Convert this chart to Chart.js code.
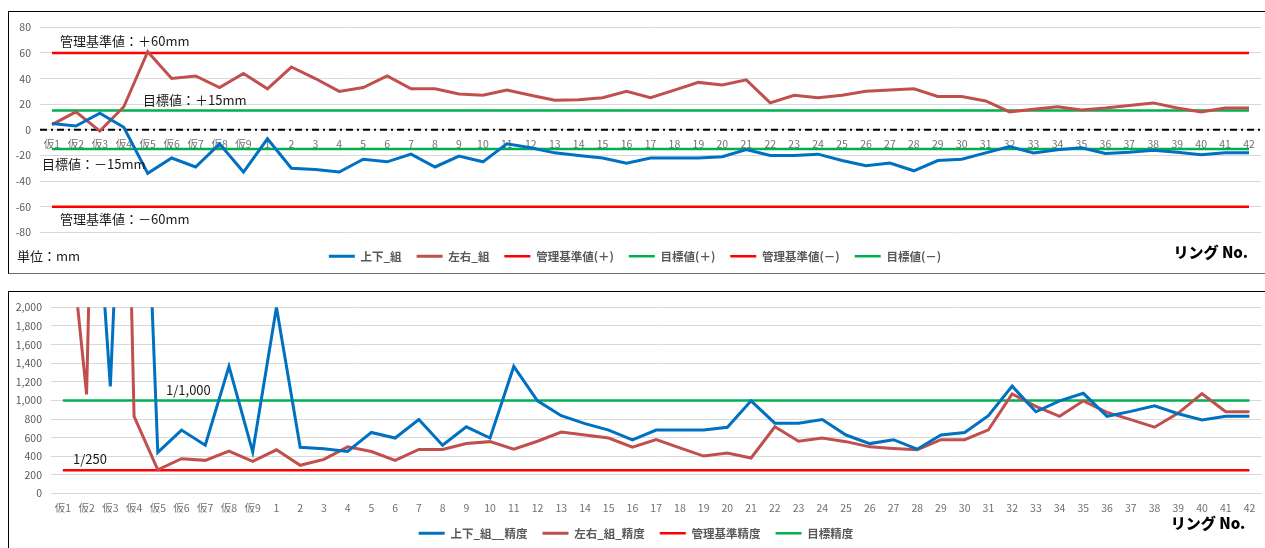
<!DOCTYPE html>
<html lang="ja">
<head>
<meta charset="utf-8">
<title>リング 組立出来形・精度</title>
<script src="https://cdn.jsdelivr.net/npm/chart.js"></script>
<style>
  html, body { margin: 0; padding: 0; background: #fff; overflow: hidden; width: 1265px; height: 548px; }
  .frame { position: absolute; box-sizing: border-box; border: 1px solid #000; }
  #frameTop { left: 8px; top: 11px; width: 1264px; height: 263px; border-bottom-color: #6b6b6b; }
  #frameBottom { left: 8px; top: 291px; width: 1264px; height: 270px; }
  canvas { position: absolute; }
  #deviationChart { left: 9px; top: 12px; }
  #accuracyChart { left: 9px; top: 292px; }
</style>
</head>
<body>
<div class="frame" id="frameTop"></div>
<div class="frame" id="frameBottom"></div>
<canvas id="deviationChart" width="1255" height="260"></canvas>
<canvas id="accuracyChart" width="1255" height="257"></canvas>
<script>
// Ring numbers (仮 = temporary rings)
const rings = ['仮1', '仮2', '仮3', '仮4', '仮5', '仮6', '仮7', '仮8', '仮9',
  '1', '2', '3', '4', '5', '6', '7', '8', '9', '10',
  '11', '12', '13', '14', '15', '16', '17', '18', '19', '20',
  '21', '22', '23', '24', '25', '26', '27', '28', '29', '30',
  '31', '32', '33', '34', '35', '36', '37', '38', '39', '40', '41', '42'];

// Assembly deviation (mm)
const verticalDev = [5, 3, 13, 2, -34, -22, -29, -11, -33,
  -7, -30, -31, -33, -23, -25, -19, -29, -20.5, -25,
  -11, -14, -18, -20, -22, -26, -22, -22, -22, -21,
  -15.5, -20, -20, -19, -24, -28, -26, -32, -24, -23,
  -18, -13, -18, -15.5, -14, -18.5, -17.5, -16, -17.5, -19.5, -18, -18];
const horizontalDev = [4, 14, -1, 18, 61, 40, 42, 33, 44,
  32, 49, 40, 30, 33, 42, 32, 32, 28, 27,
  31, 27, 23, 23.5, 25, 30, 25, 31, 37, 35,
  39, 21, 27, 25, 27, 30, 31, 32, 26, 26,
  22.5, 14, 16, 18, 15.5, 17, 19, 21, 17, 14, 17, 17];

// Assembly accuracy (1/N)
const verticalAcc = [5000, 4850, 1150, 7000, 441, 681, 518, 1365, 448,
  2000, 497, 480, 451, 656, 596, 794, 518, 716, 596,
  1365, 995, 836, 751, 681, 575, 681, 681, 681, 712,
  995, 755, 755, 794, 628, 536, 578, 476, 628, 656,
  836, 1153, 878, 995, 1076, 829, 882, 942, 857, 790, 829, 829];
const horizontalAcc = [3560, 1065, 12000, 829, 254, 374, 356, 455, 346,
  469, 303, 367, 501, 451, 356, 473, 473, 536, 557,
  476, 561, 660, 628, 596, 497, 578, 490, 402, 434,
  381, 716, 561, 596, 557, 501, 483, 469, 578, 578,
  684, 1069, 935, 829, 995, 871, 794, 712, 864, 1072, 878, 878];

// Criteria
const LIMIT_MM = 60;
const TARGET_MM = 15;
const LIMIT_RATIO = 250;
const TARGET_RATIO = 1000;

// Axis ticks
const devTicks = [-80, -60, -40, -20, 0, 20, 40, 60, 80];
const accTicks = [0, 200, 400, 600, 800, 1000, 1200, 1400, 1600, 1800, 2000];

const BLUE = '#0070C0', BROWN = '#C0504D', RED = '#FF0000', GREEN = '#00B050';
const JP = "'Noto Sans CJK JP', 'Noto Sans', sans-serif";

Chart.defaults.font.family = JP;
Chart.defaults.color = '#595959';

function series(label, data, color, width) {
  return { label, data, borderColor: color, backgroundColor: color, borderWidth: width,
    pointRadius: 0, pointHoverRadius: 0, tension: 0, fill: false };
}
// A criterion line spanning from the first ring to the last ring
function criterion(label, value, color) {
  return series(label, [{ x: rings[0], y: value }, { x: rings[rings.length - 1], y: value }], color, 2.5);
}

// Dash-dot reference line along y = 0, drawn under the series
const zeroLine = {
  id: 'zeroLine',
  beforeDatasetsDraw(chart) {
    const { ctx, chartArea, scales } = chart;
    const y = scales.y.getPixelForValue(0);
    ctx.save();
    ctx.strokeStyle = '#000';
    ctx.lineWidth = 2;
    ctx.setLineDash([7, 4, 2, 4]);
    ctx.beginPath();
    ctx.moveTo(chartArea.left, y);
    ctx.lineTo(chartArea.right, y);
    ctx.stroke();
    ctx.restore();
  }
};

// Text notes placed relative to the plot area / a y value
const noteText = {
  id: 'noteText',
  afterDraw(chart, args, opts) {
    const { ctx, chartArea, scales } = chart;
    ctx.save();
    ctx.textBaseline = 'middle';
    for (const n of opts.items) {
      ctx.font = n.font;
      ctx.fillStyle = n.color || '#1a1a1a';
      ctx.textAlign = n.align || 'left';
      const x = n.fromRight ? chartArea.right + n.dx : chartArea.left + n.dx;
      const y = (n.value !== undefined ? scales.y.getPixelForValue(n.value) : chartArea.bottom) + n.dy;
      ctx.fillText(n.text, x, y);
    }
    ctx.restore();
  }
};

const legendLabels = {
  usePointStyle: true, pointStyle: 'line', pointStyleWidth: 26, padding: 15,
  color: '#595959', font: { size: 11.5, weight: 'bold' }
};
const NOTE_FONT = '13px ' + JP;
const AXIS_NOTE_FONT = '900 15px ' + JP;

// Deviation chart
new Chart(document.getElementById('deviationChart'), {
  type: 'line',
  data: {
    labels: rings,
    datasets: [
      series('上下_組', verticalDev, BLUE, 3),
      series('左右_組', horizontalDev, BROWN, 3),
      criterion('管理基準値(＋)', LIMIT_MM, RED),
      criterion('目標値(＋)', TARGET_MM, GREEN),
      criterion('管理基準値(－)', -LIMIT_MM, RED),
      criterion('目標値(－)', -TARGET_MM, GREEN)
    ]
  },
  options: {
    responsive: false,
    animation: false,
    layout: { padding: { left: 0, right: 3, top: 12, bottom: 0 } },
    scales: {
      x: {
        offset: true,
        position: { y: 0 },
        grid: { display: false, drawTicks: false },
        border: { display: false },
        ticks: { color: '#707070', font: { size: 10.5 }, padding: 8, autoSkip: false, maxRotation: 0 }
      },
      y: {
        min: devTicks[0], max: devTicks[devTicks.length - 1],
        afterBuildTicks(s) { s.ticks = devTicks.map(v => ({ value: v })); },
        grid: { color: '#d9d9d9', drawTicks: false },
        border: { display: false },
        ticks: { color: '#595959', font: { size: 10.5 }, padding: 9 },
        afterFit(s) { s.width = 31; }
      }
    },
    plugins: {
      tooltip: { enabled: false },
      legend: {
        position: 'bottom',
        title: { display: true, text: '', font: { size: 1 }, padding: { top: 2, bottom: 0 } },
        labels: legendLabels
      },
      noteText: {
        items: [
          { text: `管理基準値：＋${LIMIT_MM}mm`, value: LIMIT_MM, dx: 20, dy: -11.5, font: NOTE_FONT },
          { text: `目標値：＋${TARGET_MM}mm`, value: TARGET_MM, dx: 103, dy: -11, font: NOTE_FONT },
          { text: `目標値：－${TARGET_MM}mm`, value: -TARGET_MM, dx: 2, dy: 15.5, font: NOTE_FONT },
          { text: `管理基準値：－${LIMIT_MM}mm`, value: -LIMIT_MM, dx: 20, dy: 12.5, font: NOTE_FONT },
          { text: '単位：mm', dx: -23, dy: 24, font: NOTE_FONT },
          { text: 'リング No.', fromRight: true, align: 'right', dx: -13, dy: 19.5, font: AXIS_NOTE_FONT, color: '#000' }
        ]
      }
    }
  },
  plugins: [zeroLine, noteText]
});

// Accuracy chart
new Chart(document.getElementById('accuracyChart'), {
  type: 'line',
  data: {
    labels: rings,
    datasets: [
      series('上下_組__精度', verticalAcc, BLUE, 3),
      series('左右_組_精度', horizontalAcc, BROWN, 3),
      criterion('管理基準精度', LIMIT_RATIO, RED),
      criterion('目標精度', TARGET_RATIO, GREEN)
    ]
  },
  options: {
    responsive: false,
    animation: false,
    layout: { padding: { left: 0, right: 1, top: 12, bottom: 0 } },
    scales: {
      x: {
        offset: true,
        grid: { display: false, drawTicks: false },
        border: { display: false },
        ticks: { color: '#707070', font: { size: 10.5 }, padding: 8.7, autoSkip: false, maxRotation: 0 },
        afterFit(s) { s.height = 19; }
      },
      y: {
        min: accTicks[0], max: accTicks[accTicks.length - 1],
        afterBuildTicks(s) { s.ticks = accTicks.map(v => ({ value: v })); },
        grid: { color: '#d9d9d9', drawTicks: false },
        border: { display: false },
        ticks: { color: '#595959', font: { size: 10.5 }, padding: 9, callback: v => v.toLocaleString('en-US') },
        afterFit(s) { s.width = 42; }
      }
    },
    plugins: {
      tooltip: { enabled: false },
      legend: { position: 'bottom', labels: legendLabels },
      noteText: {
        items: [
          { text: `1/${TARGET_RATIO.toLocaleString('en-US')}`, value: TARGET_RATIO, dx: 115, dy: -10.5, font: NOTE_FONT },
          { text: `1/${LIMIT_RATIO}`, value: LIMIT_RATIO, dx: 22, dy: -11.5, font: NOTE_FONT },
          { text: 'リング No.', fromRight: true, align: 'right', dx: -16, dy: 30, font: AXIS_NOTE_FONT, color: '#000' }
        ]
      }
    }
  },
  plugins: [noteText]
});
</script>
</body>
</html>
